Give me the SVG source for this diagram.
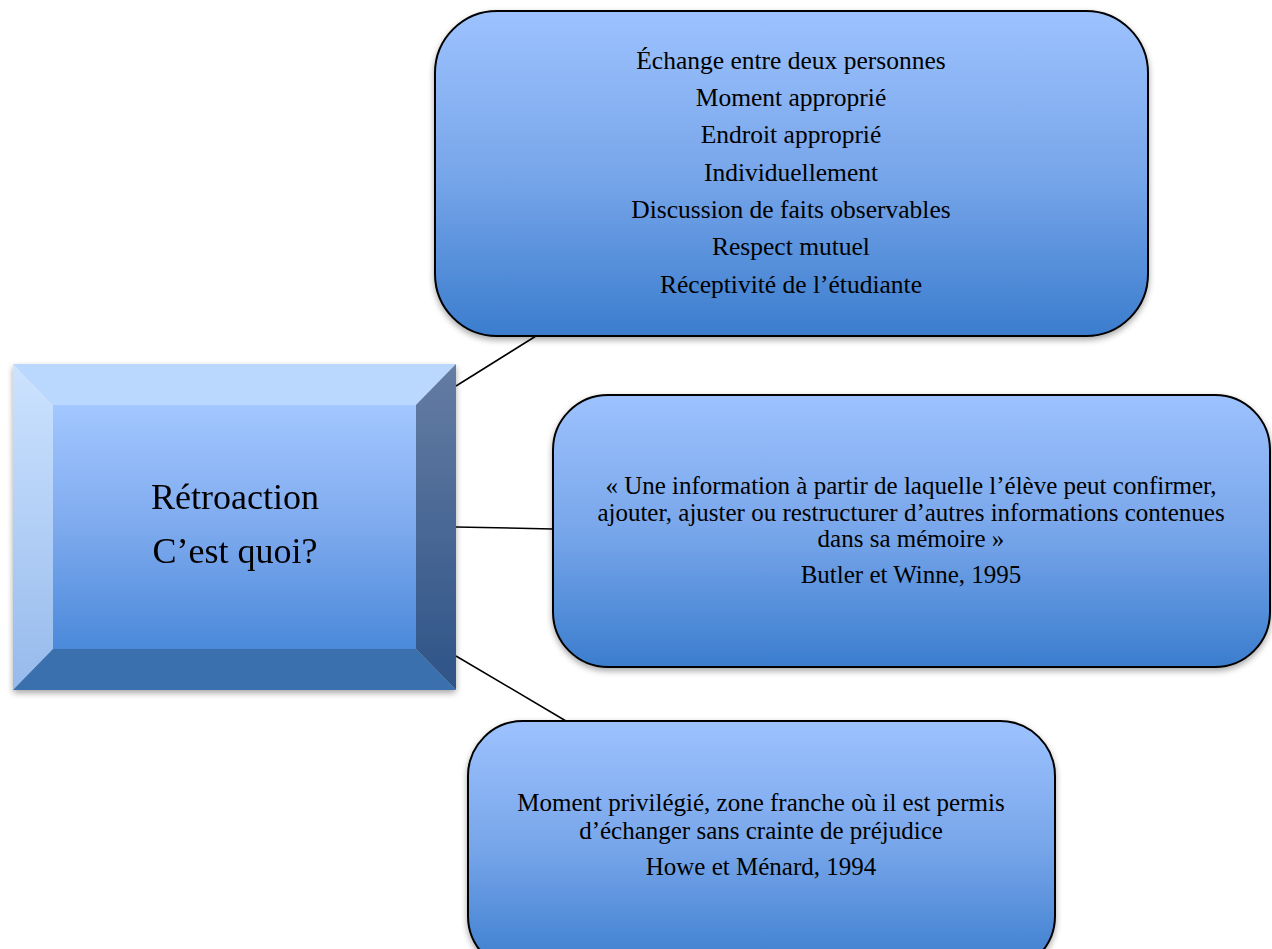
<svg xmlns="http://www.w3.org/2000/svg" width="1272" height="949" viewBox="0 0 1272 949">
<defs>
<linearGradient id="gBox" x1="0" y1="0" x2="0" y2="1">
<stop offset="0" stop-color="#9DC2FE"/>
<stop offset="0.5" stop-color="#78A6EA"/>
<stop offset="1" stop-color="#3B7DCE"/>
</linearGradient>
<linearGradient id="gCenter" x1="0" y1="0" x2="0" y2="1">
<stop offset="0" stop-color="#A3C7FF"/>
<stop offset="0.5" stop-color="#7EAAEE"/>
<stop offset="1" stop-color="#4B89DA"/>
</linearGradient>
<linearGradient id="gLeft" x1="0" y1="0" x2="0" y2="1">
<stop offset="0" stop-color="#CDE3FF"/>
<stop offset="1" stop-color="#96BAEC"/>
</linearGradient>
<linearGradient id="gRight" x1="0" y1="0" x2="0" y2="1">
<stop offset="0" stop-color="#657CA3"/>
<stop offset="1" stop-color="#2E5487"/>
</linearGradient>
<filter id="sh" x="-5%" y="-5%" width="110%" height="115%">
<feDropShadow dx="0" dy="3" stdDeviation="3" flood-color="#000" flood-opacity="0.35"/>
</filter>
</defs>
<style>
.box{fill:url(#gBox);stroke:#000;stroke-width:2;}
.t{font-family:"Liberation Serif","Times New Roman",serif;fill:#000;text-anchor:middle;}
.s1{font-size:25.5px;}
.s2{font-size:25px;}
.s3{font-size:36px;}
.con{stroke:#000;stroke-width:1.5;fill:none;}
</style>
<g id="connectors">
<line class="con" x1="456" y1="386" x2="536" y2="336"/>
<line class="con" x1="456" y1="527" x2="553" y2="529"/>
<line class="con" x1="456" y1="656" x2="566" y2="721"/>
</g>
<g id="center" filter="url(#sh)">
<polygon points="13,364 456,364 416,405 53,405" fill="#BAD8FE"/>
<polygon points="13,364 53,405 53,649 13,690" fill="url(#gLeft)"/>
<polygon points="456,364 456,690 416,649 416,405" fill="url(#gRight)"/>
<polygon points="13,690 53,649 416,649 456,690" fill="#3B6FAE"/>
<rect x="53" y="405" width="363" height="244" fill="url(#gCenter)"/>
<text class="t s3" x="235" y="509">Rétroaction</text>
<text class="t s3" x="235" y="563">C’est quoi?</text>
</g>
<g id="node-top">
<rect class="box" x="435" y="11" width="713" height="325" rx="62" ry="62" filter="url(#sh)"/>
<text class="t s1" x="791" y="69">Échange entre deux personnes</text>
<text class="t s1" x="791" y="106">Moment approprié</text>
<text class="t s1" x="791" y="143">Endroit approprié</text>
<text class="t s1" x="791" y="181">Individuellement</text>
<text class="t s1" x="791" y="218">Discussion de faits observables</text>
<text class="t s1" x="791" y="255">Respect mutuel</text>
<text class="t s1" x="791" y="293">Réceptivité de l’étudiante</text>
</g>
<g id="node-middle">
<rect class="box" x="553" y="395" width="717" height="272" rx="55" ry="55" filter="url(#sh)"/>
<text class="t s2" x="911" y="494">« Une information à partir de laquelle l’élève peut confirmer,</text>
<text class="t s2" x="911" y="521">ajouter, ajuster ou restructurer d’autres informations contenues</text>
<text class="t s2" x="911" y="547">dans sa mémoire »</text>
<text class="t s2" x="911" y="583">Butler et Winne, 1995</text>
</g>
<g id="node-bottom">
<rect class="box" x="468" y="721" width="587" height="250" rx="55" ry="55" filter="url(#sh)"/>
<text class="t s2" x="761" y="811">Moment privilégié, zone franche où il est permis</text>
<text class="t s2" x="761" y="839">d’échanger sans crainte de préjudice</text>
<text class="t s2" x="761" y="875">Howe et Ménard, 1994</text>
</g>
</svg>
